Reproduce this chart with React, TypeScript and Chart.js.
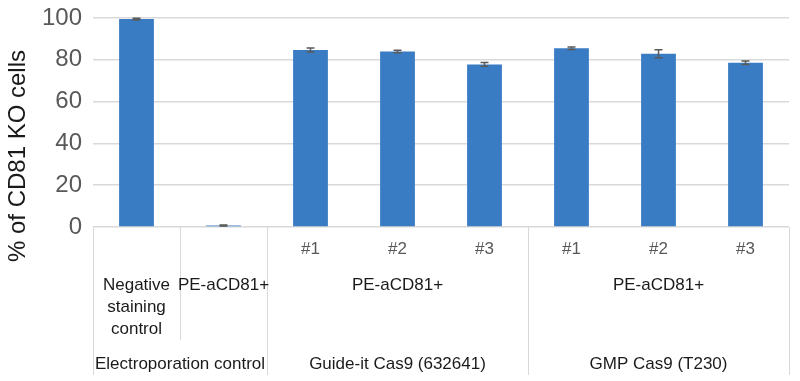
import React, { useEffect, useRef } from "react";
import { Chart, registerables } from "chart.js";

Chart.register(...registerables);

const categories = ["Negative staining control", "PE-aCD81+ (EP)", "G#1", "G#2", "G#3", "M#1", "M#2", "M#3"];
const values = [99.5, 0.7, 84.7, 84.0, 77.8, 85.5, 82.9, 78.6];
const errors = [0.4, 0.2, 1.0, 0.6, 0.9, 0.6, 1.9, 0.8];
const level1Labels = ["", "", "#1", "#2", "#3", "#1", "#2", "#3"];
const level2Groups = [
  { label: ["Negative", "staining", "control"], from: 0, to: 0 },
  { label: ["PE-aCD81+"], from: 1, to: 1 },
  { label: ["PE-aCD81+"], from: 2, to: 4 },
  { label: ["PE-aCD81+"], from: 5, to: 7 },
];
const level3Groups = [
  { label: "Electroporation control", from: 0, to: 1 },
  { label: "Guide-it Cas9 (632641)", from: 2, to: 4 },
  { label: "GMP Cas9 (T230)", from: 5, to: 7 },
];
const yTicks = [0, 20, 40, 60, 80, 100];
const yTitle = "% of CD81 KO cells";

const FONT = "'Liberation Sans', Arial, sans-serif";

const overlayPlugin = {
  id: "overlay",
  afterDatasetsDraw(chart: any) {
    const ctx = chart.ctx;
    const y = chart.scales.y;
    const meta = chart.getDatasetMeta(0);
    ctx.save();
    ctx.strokeStyle = "#5a5a5a";
    ctx.lineWidth = 1.5;
    meta.data.forEach((bar: any, i: number) => {
      const cx = bar.x;
      const top = y.getPixelForValue(values[i] + errors[i]);
      const bot = y.getPixelForValue(values[i] - errors[i]);
      ctx.beginPath();
      ctx.moveTo(cx, top);
      ctx.lineTo(cx, bot);
      ctx.moveTo(cx - 4, top);
      ctx.lineTo(cx + 4, top);
      ctx.moveTo(cx - 4, bot);
      ctx.lineTo(cx + 4, bot);
      ctx.stroke();
    });
    ctx.restore();
  },
  afterDraw(chart: any) {
    const ctx = chart.ctx;
    const x = chart.scales.x;
    const area = chart.chartArea;
    const half = (x.getPixelForValue(1) - x.getPixelForValue(0)) / 2;
    const edgeL = (i: number) => x.getPixelForValue(i) - half;
    const edgeR = (i: number) => x.getPixelForValue(i) + half;
    const base = area.bottom;
    ctx.save();
    ctx.strokeStyle = "#d9d9d9";
    ctx.lineWidth = 1;
    const line = (px: number, y2: number) => {
      const xx = Math.round(px) + 0.5;
      ctx.beginPath();
      ctx.moveTo(xx, base);
      ctx.lineTo(xx, y2);
      ctx.stroke();
    };
    line(edgeL(0), base + 148);
    line(edgeR(0), base + 113);
    level3Groups.forEach((g) => line(edgeR(g.to), base + 148));

    ctx.textAlign = "center";
    ctx.textBaseline = "middle";
    ctx.font = `17px ${FONT}`;
    ctx.fillStyle = "#595959";
    level1Labels.forEach((l, i) => {
      if (l) ctx.fillText(l, x.getPixelForValue(i), base + 22);
    });
    ctx.fillStyle = "#1a1a1a";
    level2Groups.forEach((g) => {
      const cx = (edgeL(g.from) + edgeR(g.to)) / 2;
      g.label.forEach((t, k) => ctx.fillText(t, cx, base + 58 + k * 22));
    });
    level3Groups.forEach((g) => {
      const cx = (edgeL(g.from) + edgeR(g.to)) / 2;
      ctx.fillText(g.label, cx, base + 137);
    });
    ctx.translate(18, 156);
    ctx.rotate(-Math.PI / 2);
    ctx.font = `24px ${FONT}`;
    ctx.fillStyle = "#1a1a1a";
    ctx.fillText(yTitle, 0, 0);
    ctx.restore();
  },
};

export default function App() {
  const ref = useRef<HTMLCanvasElement | null>(null);
  useEffect(() => {
    document.body.style.margin = "0";
    const chart = new Chart(ref.current as HTMLCanvasElement, {
      type: "bar",
      data: {
        labels: categories,
        datasets: [
          {
            data: values,
            backgroundColor: "#3a7cc3",
            barPercentage: 0.4,
            categoryPercentage: 1,
          },
        ],
      },
      options: {
        animation: false,
        responsive: false,
        maintainAspectRatio: false,
        layout: { padding: { top: 18, bottom: 154, left: 0, right: 11 } },
        plugins: { legend: { display: false }, tooltip: { enabled: false } },
        scales: {
          x: { display: false },
          y: {
            min: 0,
            max: 100,
            afterBuildTicks: (s: any) => {
              s.ticks = yTicks.map((v) => ({ value: v }));
            },
            afterFit: (s: any) => {
              s.width = 93;
              s.paddingTop = 0;
              s.paddingBottom = 0;
            },
            border: { display: false },
            grid: { color: "#d9d9d9", lineWidth: 1.5, drawTicks: false },
            ticks: {
              padding: 11,
              color: "#595959",
              font: { family: FONT, size: 24 },
            },
          },
        },
      },
      plugins: [overlayPlugin],
    });
    return () => chart.destroy();
  }, []);
  return (
    <div style={{ width: 800, height: 381 }}>
      <canvas ref={ref} width={800} height={381} style={{ width: 800, height: 381 }} />
    </div>
  );
}
